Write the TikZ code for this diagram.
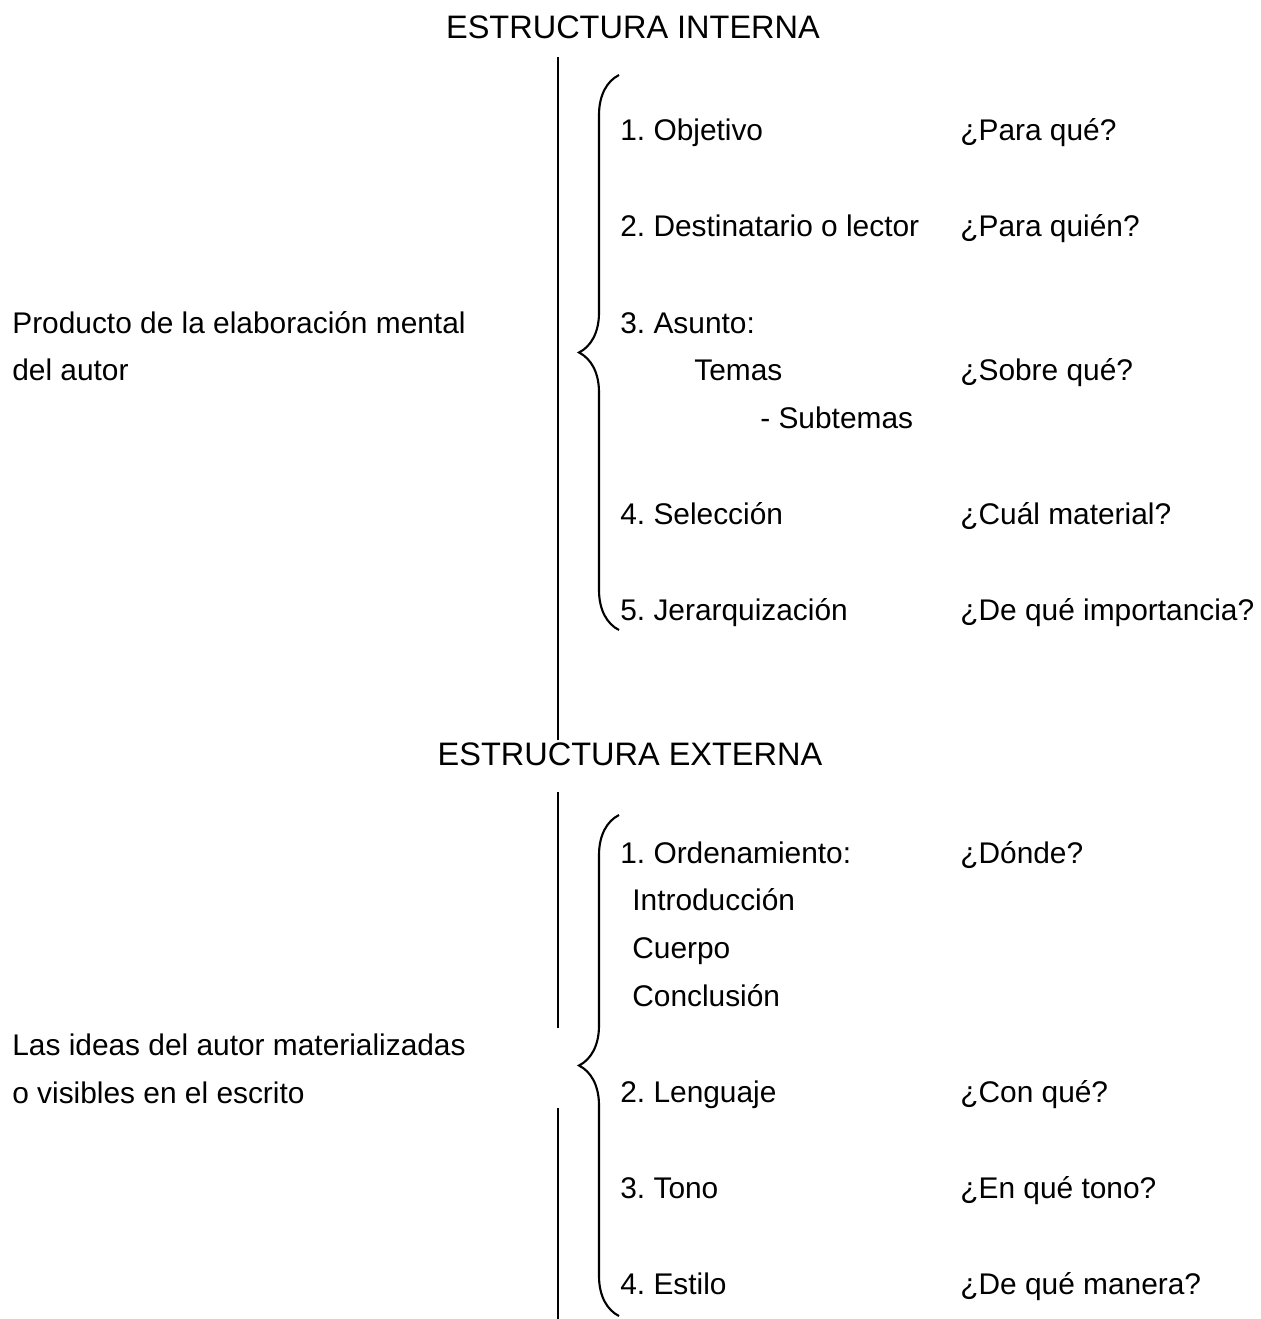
\documentclass[tikz,border=0pt]{standalone}
\usepackage{fontspec}
\setmainfont{Liberation Sans}
\usetikzlibrary{decorations.pathreplacing}
\frenchspacing

\begin{document}
\begin{tikzpicture}[
    x=0.02cm, y=-0.02cm,
    every node/.style={font=\fontsize{17}{20}\selectfont,inner sep=0pt,anchor=base west},
    titulo/.style={font=\fontsize{18.5}{22}\selectfont,anchor=base},
    llave/.style={decorate,decoration={brace,amplitude=0.8cm},line width=1.2pt},
    eje/.style={line width=1pt},
]
\useasboundingbox (0,0) rectangle (1261,1319);

% vertical rule
\coordinate (ejeA) at (558,57);
\coordinate (ejeB) at (558,740);
\coordinate (ejeC) at (558,792);
\coordinate (ejeD) at (558,1028);
\coordinate (ejeE) at (558,1108);
\coordinate (ejeF) at (558,1319);
\draw[eje] (ejeA) -- (ejeB);
\draw[eje] (ejeC) -- (ejeD);
\draw[eje] (ejeE) -- (ejeF);

% TOP: estructura interna
\node[titulo] (titInt) at (633,38) {ESTRUCTURA INTERNA};
\node (prodA) at (12,333) {Producto de la elaboración mental};
\node (prodB) at (12,380) {del autor};

\coordinate (llaveIntB) at (619,630);
\coordinate (llaveIntT) at (619,75);
\draw[llave] (llaveIntB) -- (llaveIntT);

\node (objetivo) at (620,140) {1. Objetivo};
\node (destin)   at (620,236) {2. Destinatario o lector};
\node (asunto)   at (620,333) {3. Asunto:};
\node (temas)    at (694,380) {Temas};
\node (subtemas) at (760,428) {- Subtemas};
\node (selecc)   at (620,524) {4. Selección};
\node (jerarq)   at (620,620) {5. Jerarquización};

\node (qPara)    at (960,140) {¿Para qué?};
\node (qQuien)   at (960,236) {¿Para quién?};
\node (qSobre)   at (960,380) {¿Sobre qué?};
\node (qCual)    at (960,524) {¿Cuál material?};
\node (qImport)  at (960,620) {¿De qué importancia?};

% BOTTOM: estructura externa
\node[titulo] (titExt) at (630,765) {ESTRUCTURA EXTERNA};
\node (ideasA) at (12,1055) {Las ideas del autor materializadas};
\node (ideasB) at (12,1103) {o visibles en el escrito};

\coordinate (llaveExtB) at (619,1316);
\coordinate (llaveExtT) at (619,815);
\draw[llave] (llaveExtB) -- (llaveExtT);

\node (orden)    at (620,863)  {1. Ordenamiento:};
\node (intro)    at (632,910)  {Introducción};
\node (cuerpo)   at (632,958)  {Cuerpo};
\node (concl)    at (632,1006) {Conclusión};
\node (lenguaje) at (620,1102) {2. Lenguaje};
\node (tono)     at (620,1198) {3. Tono};
\node (estilo)   at (620,1294) {4. Estilo};

\node (qDonde)   at (960,863)  {¿Dónde?};
\node (qCon)     at (960,1102) {¿Con qué?};
\node (qTono)    at (960,1198) {¿En qué tono?};
\node (qManera)  at (960,1294) {¿De qué manera?};
\end{tikzpicture}
\end{document}
